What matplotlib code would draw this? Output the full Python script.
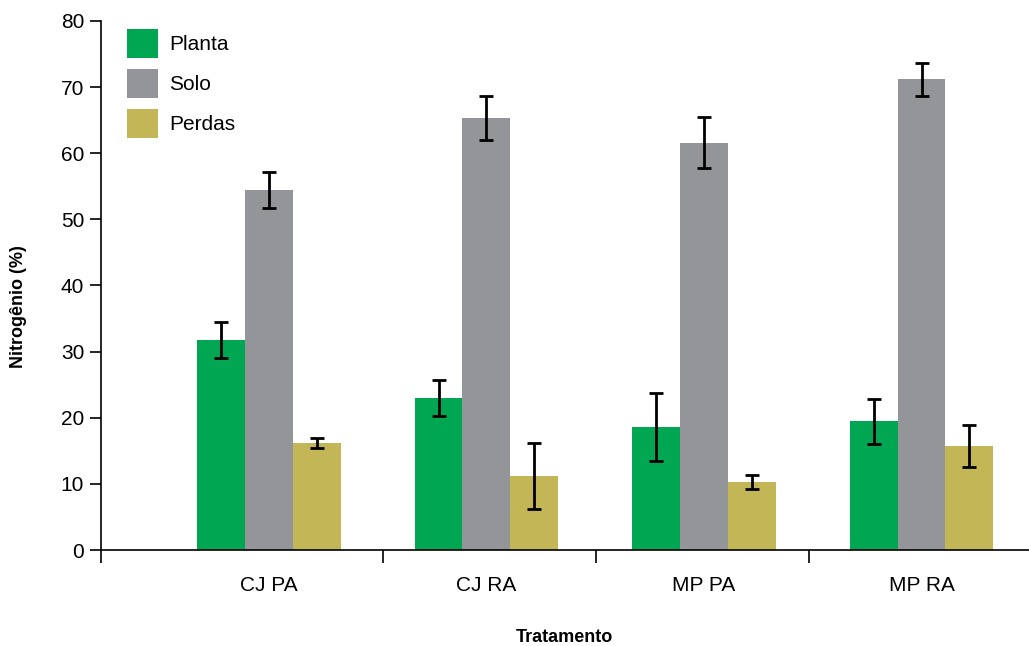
import matplotlib
matplotlib.use('Agg')
import matplotlib.pyplot as plt
import numpy as np

plt.rcParams['font.family'] = ['Liberation Sans', 'DejaVu Sans']

tratamentos = ['CJ PA', 'CJ RA', 'MP PA', 'MP RA']
series = ['Planta', 'Solo', 'Perdas']
planta = [31.8, 23.0, 18.6, 19.5]
planta_err = [2.7, 2.7, 5.1, 3.4]
solo = [54.4, 65.3, 61.6, 71.2]
solo_err = [2.7, 3.3, 3.9, 2.5]
perdas = [16.2, 11.2, 10.3, 15.7]
perdas_err = [0.8, 5.0, 1.1, 3.2]
cores = ['#00a651', '#939598', '#c2b656']

fig = plt.figure(figsize=(10.29, 6.46), dpi=100)
ax = fig.add_axes([0.098, 0.1486, 0.902, 0.8189])

x = np.arange(len(tratamentos))
width = 0.22
valores = [planta, solo, perdas]
erros = [planta_err, solo_err, perdas_err]
for i, (nome, vals, errs, cor) in enumerate(zip(series, valores, erros, cores)):
    ax.bar(x + (i - 1) * width, vals, width, color=cor, edgecolor='none', label=nome,
           yerr=errs, error_kw=dict(ecolor='black', elinewidth=2, capsize=5, capthick=2))

xmin, xmax = -0.772, 3.494
ax.set_xlim(xmin, xmax)
ax.set_ylim(0, 80)
ax.set_yticks(np.arange(0, 81, 10))
ax.set_xticks(x)
ax.set_xticklabels(tratamentos)
ax.set_xticks([xmin, 0.524, 1.503, 2.483], minor=True)
ax.tick_params(axis='x', which='major', length=0, pad=19, labelsize=15)
ax.tick_params(axis='x', which='minor', length=9, width=1.2, direction='out')
ax.tick_params(axis='y', length=8, width=1.2, pad=4, labelsize=15)

for s in ['top', 'right']:
    ax.spines[s].set_visible(False)
for s in ['left', 'bottom']:
    ax.spines[s].set_linewidth(1.2)

fig.text(0.018, 0.525, 'Nitrogênio (%)', rotation=90, ha='center', va='center',
         fontsize=13, fontweight='bold')
fig.text(0.548, 1 - 637 / 646, 'Tratamento', ha='center', va='center',
         fontsize=13, fontweight='bold')

ax.legend(loc='upper left', bbox_to_anchor=(0.0145, 1.009), frameon=False, fontsize=15,
          handlelength=1.5, handleheight=1.8, handletextpad=0.55, labelspacing=0.5,
          borderaxespad=0.2)

plt.savefig('out.png', dpi=100)
